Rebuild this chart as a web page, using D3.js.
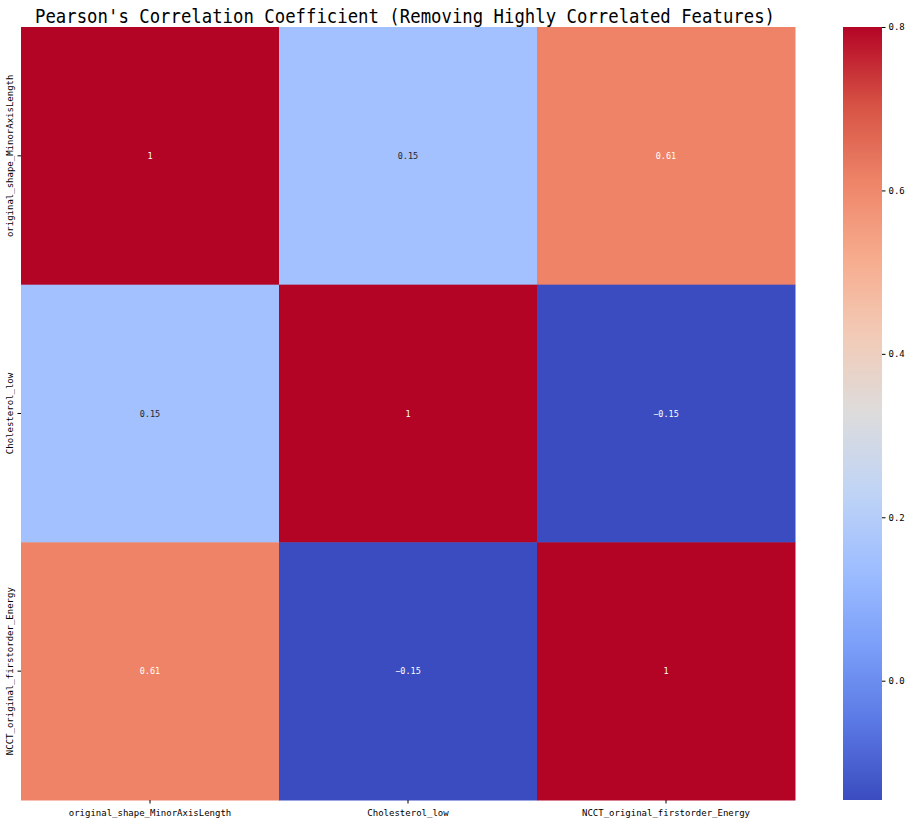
<!DOCTYPE html>
<html>
<head>
<meta charset="utf-8">
<script src="https://cdn.jsdelivr.net/npm/d3@7"></script>
<style>
  body { margin: 0; background: #fff; }
  text { font-family: "DejaVu Sans Mono", monospace; }
</style>
</head>
<body>
<svg id="chart" width="907" height="822"></svg>
<script>
// features and their correlation matrix
let features = ["original_shape_MinorAxisLength", "Cholesterol_low", "NCCT_original_firstorder_Energy"];
let corr = [
  [1, 0.151, 0.612],
  [0.151, 1, -0.146],
  [0.612, -0.146, 1]
];
let cbarTicks = [0.0, 0.2, 0.4, 0.6, 0.8];
let vmax = 0.8;

// matplotlib coolwarm samples
let cwStops = ["#3b4cc0", "#5a78e4", "#7b9ff9", "#9ebeff", "#c0d4f5", "#dddcdc",
               "#f2cbb7", "#f7ac8e", "#ee8468", "#d65244", "#b40426"];

let cells = [];
for (var i = 0; i < corr.length; i++) {
  for (var j = 0; j < corr[i].length; j++) {
    cells.push({row: i, col: j, v: corr[i][j]});
  }
}
let vmin = d3.min(cells, d => d.v);

let svg = d3.select("#chart");
let mLeft = 21, mTop = 27, w = 774, h = 773;

let x = d3.scaleBand().domain(d3.range(features.length)).range([mLeft, mLeft + w]);
let y = d3.scaleBand().domain(d3.range(features.length)).range([mTop, mTop + h]);

let norm = d3.scaleLinear().domain([vmin, vmax]).range([0, 1]).clamp(true);
let cw = d3.scaleLinear().domain(d3.range(cwStops.length).map(k => k / (cwStops.length - 1))).range(cwStops);
let color = v => cw(norm(v));

// relative luminance, like seaborn's annotation colour choice
function lum(c) {
  let ch = [c.r, c.g, c.b].map(v => {
    v = v / 255;
    return v <= 0.03928 ? v / 12.92 : Math.pow((v + 0.055) / 1.055, 2.4);
  });
  return 0.2126 * ch[0] + 0.7152 * ch[1] + 0.0722 * ch[2];
}

svg.append("text")
  .attr("x", 405).attr("y", 23)
  .attr("text-anchor", "middle")
  .attr("font-size", 20)
  .attr("textLength", 740)
  .attr("lengthAdjust", "spacingAndGlyphs")
  .attr("fill", "#000")
  .text("Pearson's Correlation Coefficient (Removing Highly Correlated Features)");

svg.append("g").selectAll("rect")
  .data(cells).enter().append("rect")
    .attr("x", d => x(d.col))
    .attr("y", d => y(d.row))
    .attr("width", x.bandwidth() + 0.5)
    .attr("height", y.bandwidth() + 0.5)
    .attr("fill", d => color(d.v));

let fmt = d3.format(".2~g");
svg.append("g").selectAll("text")
  .data(cells).enter().append("text")
    .attr("x", d => x(d.col) + x.bandwidth() / 2)
    .attr("y", d => y(d.row) + y.bandwidth() / 2 + 3)
    .attr("text-anchor", "middle")
    .attr("font-size", 8.5)
    .attr("fill", d => lum(d3.rgb(color(d.v))) > 0.408 ? "#262626" : "#ffffff")
    .text(d => fmt(d.v).replace("-", "\u2212"));

let xAxis = d3.axisBottom(x).tickSize(3.5).tickSizeOuter(0).tickFormat(i => features[i]);
let gx = svg.append("g").attr("transform", `translate(0,${mTop + h})`).call(xAxis);
gx.select(".domain").remove();
gx.selectAll("text").attr("font-size", 9).attr("font-family", "DejaVu Sans Mono").attr("dy", "1.1em").attr("fill", "#000");

let yAxis = d3.axisLeft(y).tickSize(3.5).tickSizeOuter(0).tickFormat(i => features[i]);
let gy = svg.append("g").attr("transform", `translate(${mLeft},0)`).call(yAxis);
gy.select(".domain").remove();
gy.selectAll("text")
  .attr("font-size", 9).attr("font-family", "DejaVu Sans Mono").attr("fill", "#000")
  .attr("x", null).attr("dy", null)
  .attr("text-anchor", "middle")
  .attr("transform", "translate(-8,0) rotate(-90)");

// colorbar
let cbX = 843, cbW = 39;
let cy = d3.scaleLinear().domain([vmin, vmax]).range([mTop + h, mTop]);
let defs = svg.append("defs");
let grad = defs.append("linearGradient").attr("id", "cbgrad")
  .attr("x1", 0).attr("y1", 1).attr("x2", 0).attr("y2", 0);
grad.selectAll("stop").data(d3.range(0, 1.0001, 0.02)).enter().append("stop")
  .attr("offset", d => d)
  .attr("stop-color", d => cw(d));
svg.append("rect")
  .attr("x", cbX).attr("y", mTop).attr("width", cbW).attr("height", h)
  .attr("fill", "url(#cbgrad)");

let cAxis = d3.axisRight(cy).tickValues(cbarTicks).tickSize(3.5).tickFormat(d3.format(".1f"));
let gc = svg.append("g").attr("transform", `translate(${cbX + cbW},0)`).call(cAxis);
gc.select(".domain").remove();
gc.selectAll("text").attr("font-size", 9).attr("font-family", "DejaVu Sans Mono").attr("fill", "#000");
</script>
</body>
</html>
